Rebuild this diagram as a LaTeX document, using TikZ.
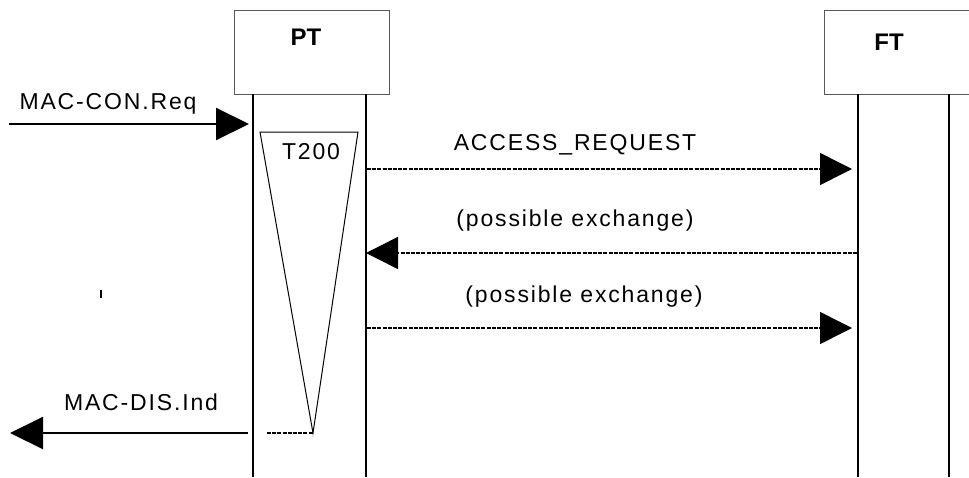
\documentclass[tikz,border=0pt]{standalone}
\usepackage{fontspec}
\setmainfont{Liberation Sans}
\newfontfamily\lblfont{Liberation Sans}[LetterSpace=8]
\usetikzlibrary{arrows.meta}
\begin{document}
\begin{tikzpicture}[x=1pt,y=-1pt,
  box/.style={draw=black!65, line width=1pt, inner sep=0pt, anchor=north west},
  life/.style={line width=2pt},
  msg/.style={line width=1.5pt, dash pattern=on 4pt off 1.2pt, -{Triangle[length=32pt,width=32pt]}},
  sig/.style={line width=2pt, -{Triangle[length=33pt,width=32pt]}},
  lbl/.style={font=\lblfont\fontsize{23}{27}\selectfont, inner sep=0pt},
  head/.style={font=\bfseries\fontsize{24}{28}\selectfont, inner sep=0pt}]
\useasboundingbox (0,0) rectangle (969,477);
\clip (0,0) rectangle (969,477);
% entity boxes
\node[box, minimum width=155pt, minimum height=84pt] (ptbox) at (234,10) {};
\node[box, minimum width=170pt, minimum height=84pt] (ftbox) at (824,10) {};
\node[head] (ptlabel) at (306,37) {PT};
\node[head] (ftlabel) at (889,42) {FT};
% lifelines
\coordinate (pta) at (253,94);  \coordinate (ptaend) at (253,477);
\coordinate (ptb) at (366,94);  \coordinate (ptbend) at (366,477);
\coordinate (fta) at (858,94);  \coordinate (ftaend) at (858,477);
\coordinate (ftb) at (949,94);  \coordinate (ftbend) at (949,477);
\draw[life] (pta) -- (ptaend);
\draw[life] (ptb) -- (ptbend);
\draw[life] (fta) -- (ftaend);
\draw[life] (ftb) -- (ftbend);
% timer T200
\coordinate (tl) at (260,132);
\coordinate (tr) at (358,132);
\coordinate (tb) at (313,433);
\draw[line width=1pt] (tl) -- (tr) -- (tb) -- cycle;
\node[lbl] (t200) at (311,152) {T200};
% MAC-CON.Req
\coordinate (conin) at (9,124);
\coordinate (conout) at (249,124);
\draw[sig] (conin) -- (conout);
\node[lbl] (conlbl) at (108,104) {MAC-CON.Req};
% ACCESS_REQUEST
\coordinate (m1a) at (367,169);
\coordinate (m1b) at (852,169);
\draw[msg] (m1a) -- (m1b);
\node[lbl] (m1lbl) at (575,145) {ACCESS\_REQUEST};
% possible exchange (back)
\coordinate (m2a) at (857,253);
\coordinate (m2b) at (366,253);
\draw[msg] (m2a) -- (m2b);
\node[lbl] (m2lbl) at (575,221) {(possible exchange)};
% possible exchange (forward)
\coordinate (m3a) at (367,328);
\coordinate (m3b) at (852,328);
\draw[msg] (m3a) -- (m3b);
\node[lbl] (m3lbl) at (584,297) {(possible exchange)};
% MAC-DIS.Ind
\coordinate (disa) at (248,433);
\coordinate (disb) at (10,433);
\draw[sig] (disa) -- (disb);
\coordinate (dota) at (267,433);
\draw[line width=1.5pt, dash pattern=on 4pt off 1.2pt] (dota) -- (tb);
\node[lbl] (dislbl) at (141,402) {MAC-DIS.Ind};
% small tick
\coordinate (ticka) at (101,290);
\coordinate (tickb) at (101,298);
\draw[line width=2pt] (ticka) -- (tickb);
\end{tikzpicture}
\end{document}
